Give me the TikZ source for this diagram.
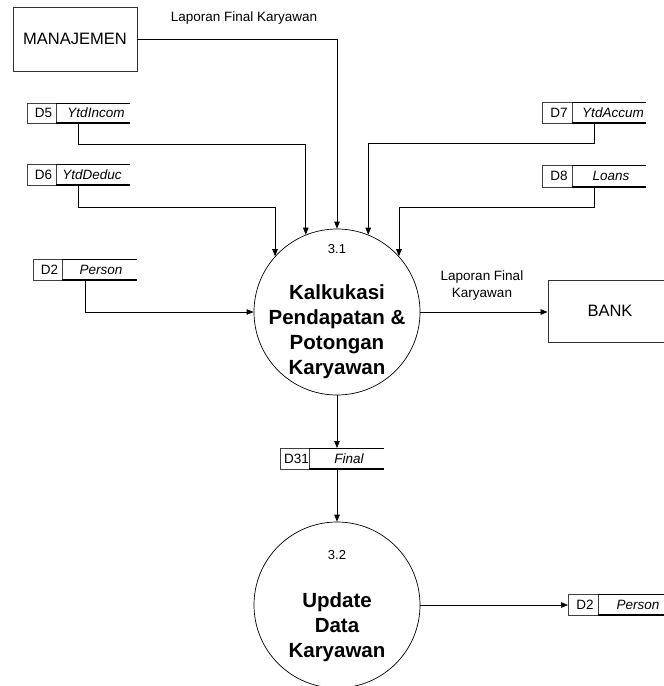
\documentclass[tikz,border=0pt]{standalone}
\usepackage{fontspec}
\setmainfont{Liberation Sans}
\usetikzlibrary{arrows.meta}

\tikzset{
  flow/.style={draw, line width=0.7pt, -{Triangle[length=7pt,width=5.5pt]}},
  process/.style={circle, draw, line width=0.7pt, minimum size=166pt, inner sep=0pt},
  entity/.style={rectangle, draw=black!80, line width=0.8pt, inner sep=0pt,
                 font=\fontsize{16.5}{19}\selectfont},
  storebox/.style={rectangle, inner sep=0pt, outer sep=0pt},
  storecell/.style={draw=black!75, line width=0.6pt},
  storeline/.style={draw=black, line width=0.8pt},
  storetext/.style={inner sep=0pt, font=\fontsize{13.5}{15}\selectfont},
  flowlabel/.style={inner sep=0pt, align=center, font=\fontsize{13.5}{17}\selectfont},
  procnum/.style={inner sep=0pt, font=\fontsize{13}{15}\selectfont},
  procname/.style={inner sep=0pt, align=center, font=\fontsize{20.5}{25}\selectfont\bfseries}
}

% data store: name, left, top, divider, right, bottom, id, label, label centre x
\newcommand\datastore[9]{%
  \node[storebox, minimum width={#5-#2}, minimum height={#6-#3}]
       (#1) at ({(#2+#5)/2},{(#3+#6)/2}) {};
  \draw[storecell] (#2,#3) rectangle (#4,#6);
  \draw[storeline] (#4,#3) -- (#5,#3);
  \draw[storeline, line width=1.2pt] (#4,#6) -- (#5,#6);
  \node[storetext] at ({(#2+#4)/2+2},{(#3+#6)/2}) {#7};
  \node[storetext, font=\fontsize{13.5}{15}\selectfont\itshape] at (#9,{(#3+#6)/2}) {#8};
}

\begin{document}
\begin{tikzpicture}[x=1pt, y=-1pt]
  \useasboundingbox (0,0) rectangle (664,686);

  % external entities
  \node[entity, minimum width=124pt, minimum height=64pt] (man) at (75,39) {MANAJEMEN};
  \node[entity, minimum width=124pt, minimum height=62pt] (bank) at (610,311) {BANK};

  % processes
  \node[process] (p31) at (337,312) {};
  \node[procnum] at ([yshift=63pt]p31.center) {3.1};
  \node[procname] at ([yshift=-19.5pt]p31.center) {Kalkukasi\\Pendapatan \&\\Potongan\\Karyawan};

  \node[process] (p32) at (337,605) {};
  \node[procnum] at ([yshift=50pt]p32.center) {3.2};
  \node[procname] at ([yshift=-22pt]p32.center) {Update\\Data\\Karyawan};

  % data stores
  \datastore{d5}{27}{103}{56}{130}{123}{D5}{YtdIncom}{96}
  \datastore{d6}{27}{164}{56}{130}{185}{D6}{YtdDeduc}{92}
  \datastore{d2a}{33}{259}{62}{137}{280}{D2}{Person}{101}
  \datastore{d7}{542}{102}{572}{646}{123}{D7}{YtdAccum}{613}
  \datastore{d8}{542}{165}{572}{646}{187}{D8}{Loans}{611}
  \datastore{d31}{280}{448}{309}{384}{469}{D31}{Final}{349}
  \datastore{d2b}{568}{594}{598}{666}{615}{D2}{Person}{638}

  % entry points on the rim of 3.1
  \coordinate (e5) at (p31.112.7);
  \coordinate (e6) at (p31.138.3);
  \coordinate (e7) at (p31.68.1);
  \coordinate (e8) at (p31.42.7);

  % data flows into 3.1
  \draw[flow] (man.east) -| (p31.north);
  \node[flowlabel] at (244,18) {Laporan Final Karyawan};
  \draw[flow] (d5.south) -- ++(0,21) -| (e5);
  \draw[flow] (d6.south) -- ++(0,22) -| (e6);
  \draw[flow] (d7.south) -- ++(0,20) -| (e7);
  \draw[flow] (d8.south) -- ++(0,20) -| (e8);
  \draw[flow] (d2a.south) |- (p31.west);

  % data flows out of 3.1
  \draw[flow] (p31.east) -- (p31.east -| bank.west);
  \node[flowlabel] at (482,285.5) {Laporan Final\\Karyawan};
  \draw[flow] (p31.south) -- (p31.south |- d31.north);

  % into and out of 3.2
  \draw[flow] (d31.south -| p32.north) -- (p32.north);
  \draw[flow] (p32.east) -- (p32.east -| d2b.west);
\end{tikzpicture}
\end{document}
